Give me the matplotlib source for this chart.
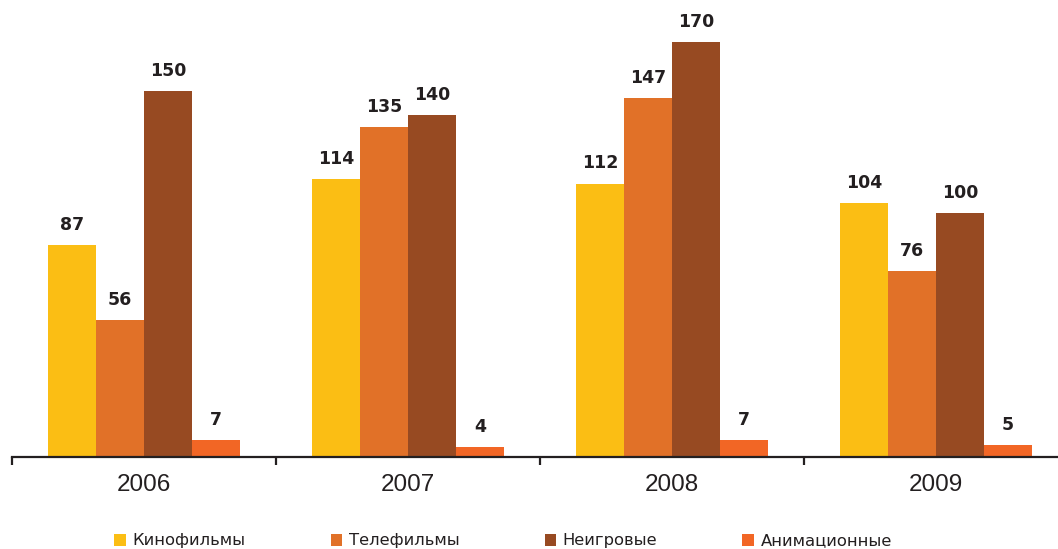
import numpy as np
import matplotlib
matplotlib.use("Agg")
import matplotlib.pyplot as plt
from matplotlib.patches import Patch

years = ["2006", "2007", "2008", "2009"]
series_names = ["Кинофильмы", "Телефильмы", "Неигровые", "Анимационные"]
kino = [87, 114, 112, 104]
tele = [56, 135, 147, 76]
neigr = [150, 140, 170, 100]
anim = [7, 4, 7, 5]
colors = ["#FBBE14", "#E17128", "#974A22", "#F26625"]

W, H = 1058, 549
fig = plt.figure(figsize=(W / 100, H / 100), dpi=100)
ax = fig.add_axes([12 / W, 92 / H, 1 - 12 / W, 1 - 92 / H])

x = np.arange(len(years))
bw = 48 / 264
for i, (vals, c) in enumerate(zip([kino, tele, neigr, anim], colors)):
    pos = x + (i - 1.5) * bw
    ax.bar(pos, vals, width=bw, color=c, edgecolor="none")
    for px, v in zip(pos, vals):
        ax.annotate(str(v), (px, v), xytext=(0, 8), textcoords="offset points",
                    ha="center", va="bottom", fontsize=12.5, fontweight="bold",
                    color="#231f20")

ax.set_xlim(-0.5, -0.5 + (W - 12) / 264)
ax.set_ylim(0, 457 / (415 / 170))

for s in ["top", "right", "left"]:
    ax.spines[s].set_visible(False)
ax.spines["bottom"].set_color("#231f20")
ax.spines["bottom"].set_linewidth(1.6)
ax.set_yticks([])
ax.set_xticks(np.arange(-0.5, 3.5, 1.0))
ax.set_xticklabels([])
ax.tick_params(axis="x", direction="out", length=6, width=1.6, color="#231f20")

# year labels under each group
for xi, yr in zip(x, years):
    ax.annotate(yr, (xi, 0), xytext=(0, -12.5), textcoords="offset points",
                ha="center", va="top", fontsize=17.5, family="Liberation Sans",
                color="#231f20")

handles = [Patch(facecolor=c, edgecolor="none") for c in colors]
fig.legend(handles, series_names, loc="center", bbox_to_anchor=(503 / W, 1 - 541 / H),
           ncol=4, frameon=False, fontsize=11.8, handlelength=0.7, handleheight=0.7,
           handletextpad=0.4, columnspacing=5.2, labelcolor="#231f20")

fig.savefig("out.png", dpi=100)
